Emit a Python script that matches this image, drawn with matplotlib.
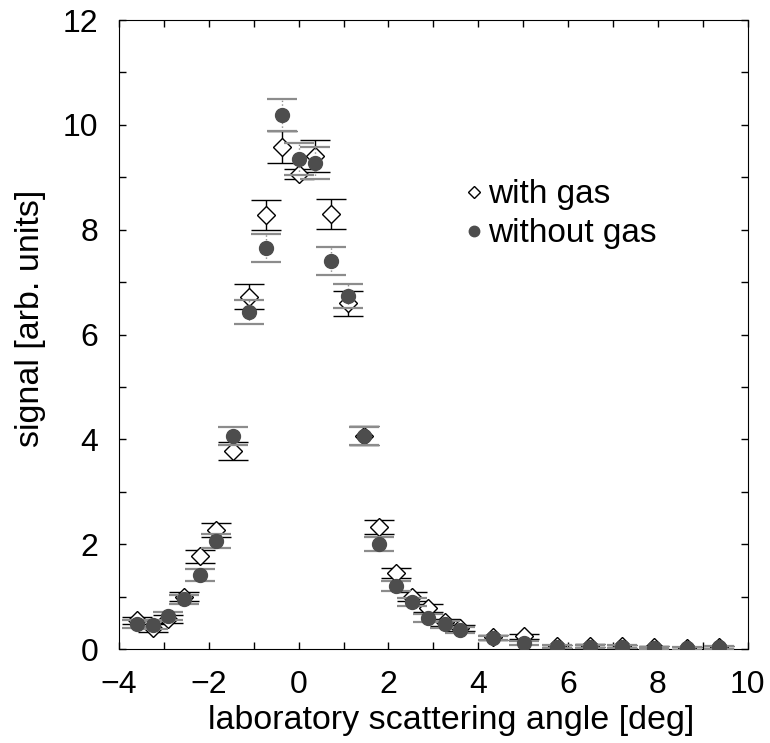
import numpy as np
import matplotlib.pyplot as plt
from matplotlib.ticker import MultipleLocator
from matplotlib.lines import Line2D

# scattering angles [deg]
angle = [-3.6, -3.25, -2.9, -2.55, -2.2, -1.85, -1.45, -1.1, -0.72, -0.36, 0.0,
         0.36, 0.72, 1.1, 1.45, 1.8, 2.16, 2.52, 2.88, 3.25, 3.6, 4.32, 5.03,
         5.75, 6.48, 7.2, 7.92, 8.65, 9.37]

# with gas (open diamonds)
sig_gas = [0.55, 0.40, 0.57, 1.0, 1.77, 2.27, 3.78, 6.72, 8.28, 9.58, 9.06,
           9.41, 8.30, 6.60, 4.07, 2.33, 1.45, 1.0, 0.78, 0.51, 0.40, 0.22, 0.24,
           0.05, 0.06, 0.05, 0.03, 0.01, 0.03]
err_gas = [0.07, 0.07, 0.08, 0.09, 0.12, 0.13, 0.17, 0.24, 0.28, 0.31, 0.09,
           0.30, 0.28, 0.24, 0.18, 0.13, 0.10, 0.08, 0.07, 0.07, 0.06, 0.04, 0.05,
           0.03, 0.03, 0.03, 0.03, 0.02, 0.03]

# without gas (filled circles)
sig_nogas = [0.48, 0.46, 0.63, 0.95, 1.41, 2.06, 4.07, 6.43, 7.65, 10.19, 9.35,
             9.27, 7.40, 6.74, 4.07, 2.0, 1.2, 0.9, 0.59, 0.47, 0.36, 0.21, 0.11,
             0.04, 0.04, 0.04, 0.02, 0.01, 0.03]
err_nogas = [0.08, 0.07, 0.08, 0.09, 0.12, 0.13, 0.17, 0.23, 0.27, 0.31, 0.30,
             0.30, 0.27, 0.23, 0.17, 0.13, 0.10, 0.08, 0.07, 0.07, 0.06, 0.04, 0.04,
             0.03, 0.03, 0.03, 0.02, 0.02, 0.03]

plt.rcParams['font.family'] = ['Liberation Sans', 'DejaVu Sans']
plt.rcParams['axes.unicode_minus'] = True

fig = plt.figure(figsize=(7.7, 7.43), dpi=100)
ax = fig.add_axes([0.1545, 0.1265, 0.8165, 0.8465])

ax.errorbar(angle, sig_gas, yerr=err_gas, fmt='D', mfc='white', mec='black',
            mew=1.0, ms=9.5, ecolor='black', elinewidth=1.0, capsize=10.5,
            capthick=1.2, zorder=2)

eb = ax.errorbar(angle, sig_nogas, yerr=err_nogas, fmt='o', color='#4d4d4d',
                 ms=10, ecolor='#8c8c8c', elinewidth=1.0, capsize=10.5,
                 capthick=1.6, zorder=3)
eb[-1][0].set_linestyle(':')

ax.set_xlim(-4, 10)
ax.set_ylim(0, 12)
ax.xaxis.set_major_locator(MultipleLocator(2))
ax.xaxis.set_minor_locator(MultipleLocator(1))
ax.yaxis.set_major_locator(MultipleLocator(2))
ax.yaxis.set_minor_locator(MultipleLocator(1))
ax.tick_params(which='both', direction='in', top=True, right=True,
               length=5, width=1, labelsize=23, pad=15)

ax.set_xlabel('laboratory scattering angle [deg]', fontsize=24.5, labelpad=4,
              x=0.528)
ax.set_ylabel('signal [arb. units]', fontsize=24.5, labelpad=12, y=0.526)

handles = [Line2D([], [], ls='none', marker='D', ms=6.5, mfc='white',
                  mec='black', mew=1.0),
           Line2D([], [], ls='none', marker='o', ms=7.5, color='#4d4d4d')]
ax.legend(handles, ['with gas', 'without gas'], loc='upper left',
          bbox_to_anchor=(0.552, 0.747), frameon=False, fontsize=24,
          handletextpad=0.15, handlelength=0.5, labelspacing=0.24,
          borderpad=0, borderaxespad=0)

fig.savefig('out.png', dpi=100)
